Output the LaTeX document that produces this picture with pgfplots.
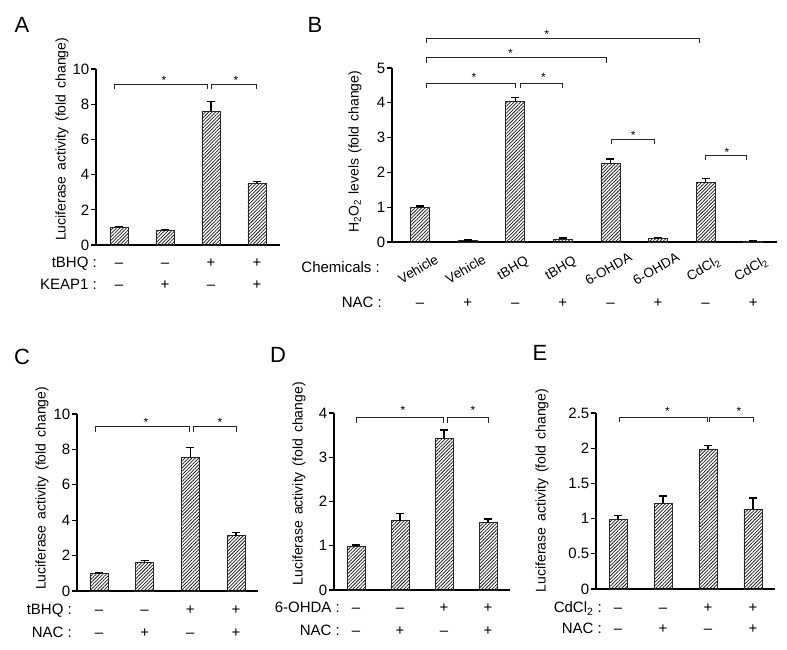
\documentclass[border=0pt]{standalone}
\usepackage{fontspec}
\setmainfont{Liberation Sans}
\usepackage{pgfplots}
\pgfplotsset{compat=1.18}
\usetikzlibrary{patterns.meta}

\newcommand\tickfont{\fontsize{15bp}{18bp}\selectfont}
\newcommand\labfont{\fontsize{14bp}{16bp}\selectfont}
\newcommand\catfont{\fontsize{13.5bp}{16bp}\selectfont}
\newcommand\starfont{\fontsize{12bp}{14bp}\selectfont}
\newcommand\letfont{\fontsize{22bp}{24bp}\selectfont}
\newcommand\wsp{\hspace{6bp}}

\pgfplotsset{
  panel/.style={
    scale only axis, clip=false,
    axis lines=left, axis line style={-, line width=1.5bp, black},
    xtick=\empty, tick align=outside, major tick length=5bp,
    ytick style={line width=1.2bp, black},
    yticklabel style={font=\tickfont, inner xsep=1.5bp},
    /pgf/number format/assume math mode=true,
    ymin=0,
  },
  barsty/.style={ybar, bar width=18bp, draw=black!85, line width=0.8bp,
    pattern={Lines[angle=45, distance=2.4bp, line width=0.75bp]}, pattern color=black!90,
    error bars/y dir=plus, error bars/y explicit,
    error bars/error bar style={line width=1.4bp, black},
    error bars/error mark options={rotate=90, mark size=4bp, line width=1.4bp, black}},
}

% bracket: x1, x2, y, xstar, ystar
\newcommand\bracket[5]{%
  \draw[line width=0.9bp, black!85] ([yshift=-5bp]axis cs:#1,#3) -- (axis cs:#1,#3) -- (axis cs:#2,#3) -- ([yshift=-5bp]axis cs:#2,#3);
  \node[font=\starfont, inner sep=0pt, anchor=base] at ([yshift=-7bp]axis cs:#4,#5) {*};}
% row symbol: x, baseline shift, symbol
\newcommand\rs[3]{\node[font=\tickfont, inner sep=0pt, anchor=base] at ([yshift=#2]axis cs:#1,0) {#3};}
% row name: xshift, baseline shift, text
\newcommand\rn[3]{\node[font=\tickfont, inner sep=0pt, anchor=base east] at ([xshift=#1, yshift=#2]rel axis cs:0,0) {#3};}
\newcommand\mi{\textendash}
\newcommand\cat[2]{\node[font=\catfont, rotate=30, inner sep=0pt] at ([xshift=-2bp, yshift=-27bp]axis cs:#1,0) {#2};}

\begin{document}
\begin{tikzpicture}
\useasboundingbox (0,0) rectangle (787bp,650bp);

\node[font=\letfont] at (22bp,625bp) {A};
\node[font=\letfont] at (315bp,625bp) {B};
\node[font=\letfont] at (22bp,293bp) {C};
\node[font=\letfont] at (278bp,295bp) {D};
\node[font=\letfont] at (540bp,297bp) {E};

% ---------------- A ----------------
\begin{axis}[panel, at={(96bp,405bp)}, anchor=south west,
  width=184bp, height=176bp, xmin=-0.5, xmax=3.5, ymax=10, ytick={0,2,4,6,8,10}]
\addplot[barsty] coordinates {(0,1.0) +- (0,0.06) (1,0.83) +- (0,0.04) (2,7.61) +- (0,0.53) (3,3.5) +- (0,0.1)};
\node[font=\labfont, rotate=90] at ([xshift=-34bp]rel axis cs:0,0.6) {Luciferase\wsp activity\wsp (fold\wsp change)};
\bracket{-0.09}{1.93}{9.15}{0.98}{9.5}
\bracket{2.02}{2.98}{9.15}{2.54}{9.5}
\rn{1bp}{-23bp}{tBHQ :}
\rn{1bp}{-45bp}{KEAP1 :}
\rs{0}{-23bp}{\mi}\rs{1}{-23bp}{\mi}\rs{2}{-23bp}{+}\rs{3}{-23bp}{+}
\rs{0}{-45bp}{\mi}\rs{1}{-45bp}{+}\rs{2}{-45bp}{\mi}\rs{3}{-45bp}{+}
\end{axis}

% ---------------- B ----------------
\begin{axis}[panel, at={(392bp,408bp)}, anchor=south west,
  width=385bp, height=174bp, xmin=-0.59, xmax=7.5, ymax=5, ytick={0,1,2,3,4,5}]
\addplot[barsty, bar width=19bp] coordinates {(0,0.98) +- (0,0.05) (1,0.04) +- (0,0.02) (2,4.03) +- (0,0.13) (3,0.08) +- (0,0.03) (4,2.26) +- (0,0.12) (5,0.1) +- (0,0.03) (6,1.70) +- (0,0.12) (7,0.02) +- (0,0.01)};
\node[font=\labfont, rotate=90] at ([xshift=-37bp]rel axis cs:0,0.52) {H\textsubscript{2}O\textsubscript{2}\hspace{5bp}levels\hspace{5bp}(fold\hspace{5bp}change)};
\bracket{0.14}{2.0}{4.57}{1.13}{4.8}
\bracket{2.1}{2.99}{4.57}{2.59}{4.8}
\bracket{0.14}{3.92}{5.29}{1.9}{5.5}
\bracket{0.14}{5.86}{5.86}{2.66}{6.06}
\bracket{4.03}{4.92}{2.96}{4.48}{3.16}
\bracket{6.0}{6.85}{2.5}{6.45}{2.67}
\rn{-12bp}{-31bp}{Chemicals :}
\rn{-10bp}{-66bp}{NAC :}
\cat{0}{Vehicle}\cat{1}{Vehicle}\cat{2}{tBHQ}\cat{3}{tBHQ}
\cat{4}{6-OHDA}\cat{5}{6-OHDA}\cat{6}{CdCl\textsubscript{2}}\cat{7}{CdCl\textsubscript{2}}
\rs{0}{-66bp}{\mi}\rs{1}{-66bp}{+}\rs{2}{-66bp}{\mi}\rs{3}{-66bp}{+}
\rs{4}{-66bp}{\mi}\rs{5}{-66bp}{+}\rs{6}{-66bp}{\mi}\rs{7}{-66bp}{+}
\end{axis}

% ---------------- C ----------------
\begin{axis}[panel, at={(77bp,59bp)}, anchor=south west,
  width=181bp, height=177bp, xmin=-0.48, xmax=3.48, ymax=10, ytick={0,2,4,6,8,10}]
\addplot[barsty] coordinates {(0,1.0) +- (0,0.03) (1,1.6) +- (0,0.13) (2,7.55) +- (0,0.55) (3,3.12) +- (0,0.18)};
\node[font=\labfont, rotate=90] at ([xshift=-35bp]rel axis cs:0,0.58) {Luciferase\wsp activity\wsp (fold\wsp change)};
\bracket{-0.07}{1.97}{9.27}{1.03}{9.7}
\bracket{2.06}{3.0}{9.27}{2.65}{9.7}
\rn{-5bp}{-24bp}{tBHQ :}
\rn{-5bp}{-46bp}{NAC :}
\rs{0}{-24bp}{\mi}\rs{1}{-24bp}{\mi}\rs{2}{-24bp}{+}\rs{3}{-24bp}{+}
\rs{0}{-46bp}{\mi}\rs{1}{-46bp}{+}\rs{2}{-46bp}{\mi}\rs{3}{-46bp}{+}
\end{axis}

% ---------------- D ----------------
\begin{axis}[panel, at={(334bp,60bp)}, anchor=south west,
  width=176bp, height=177bp, xmin=-0.5, xmax=3.5, ymax=4, ytick={0,1,2,3,4}]
\addplot[barsty] coordinates {(0,0.99) +- (0,0.03) (1,1.57) +- (0,0.16) (2,3.43) +- (0,0.19) (3,1.52) +- (0,0.08)};
\node[font=\labfont, rotate=90] at ([xshift=-35bp]rel axis cs:0,0.6) {Luciferase\wsp activity\wsp (fold\wsp change)};
\bracket{0.0}{1.98}{3.89}{1.07}{4.13}
\bracket{2.07}{3.0}{3.89}{2.66}{4.13}
\rn{6bp}{-23bp}{6-OHDA :}
\rn{6bp}{-45bp}{NAC :}
\rs{0}{-23bp}{\mi}\rs{1}{-23bp}{\mi}\rs{2}{-23bp}{+}\rs{3}{-23bp}{+}
\rs{0}{-45bp}{\mi}\rs{1}{-45bp}{+}\rs{2}{-45bp}{\mi}\rs{3}{-45bp}{+}
\end{axis}

% ---------------- E ----------------
\begin{axis}[panel, at={(596bp,61bp)}, anchor=south west,
  width=179bp, height=176bp, xmin=-0.49, xmax=3.49, ymax=2.5, ytick={0,0.5,1,1.5,2,2.5}]
\addplot[barsty] coordinates {(0,0.99) +- (0,0.05) (1,1.22) +- (0,0.1) (2,1.99) +- (0,0.05) (3,1.13) +- (0,0.16)};
\node[font=\labfont, rotate=90] at ([xshift=-54bp]rel axis cs:0,0.56) {Luciferase\wsp activity\wsp (fold\wsp change)};
\bracket{0.04}{1.98}{2.44}{1.1}{2.56}
\bracket{2.04}{3.0}{2.44}{2.69}{2.56}
\rn{6bp}{-24bp}{CdCl\textsubscript{2} :}
\rn{6bp}{-44bp}{NAC :}
\rs{0}{-24bp}{\mi}\rs{1}{-24bp}{\mi}\rs{2}{-24bp}{+}\rs{3}{-24bp}{+}
\rs{0}{-44bp}{\mi}\rs{1}{-44bp}{+}\rs{2}{-44bp}{\mi}\rs{3}{-44bp}{+}
\end{axis}
\end{tikzpicture}
\end{document}
